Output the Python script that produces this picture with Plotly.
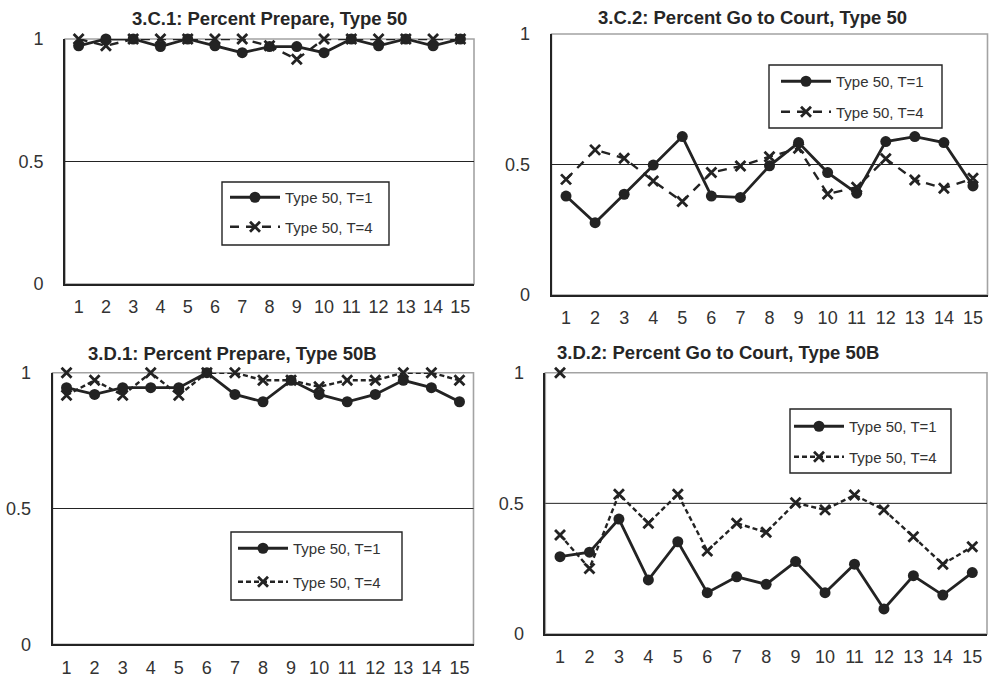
import plotly.graph_objects as go

# Simulation periods shown on every x axis
periods = list(range(1, 16))
tick_text = [str(p) for p in periods]
y_ticks = [0, 0.5, 1]
y_tick_text = ["0", "0.5", "1"]

# 3.C.1: share of players who prepare, Type 50
c1_t1 = [0.972, 1.0, 1.0, 0.969, 1.0, 0.972, 0.944, 0.969, 0.969, 0.944, 1.0, 0.972, 1.0, 0.972, 1.0]
c1_t4 = [1.0, 0.972, 1.0, 1.0, 1.0, 1.0, 1.0, 0.972, 0.917, 1.0, 1.0, 1.0, 1.0, 1.0, 1.0]

# 3.C.2: share of players who go to court, Type 50
c2_t1 = [0.379, 0.277, 0.386, 0.498, 0.607, 0.379, 0.374, 0.495, 0.584, 0.469, 0.390, 0.588, 0.607, 0.584, 0.418]
c2_t4 = [0.443, 0.556, 0.524, 0.437, 0.358, 0.469, 0.494, 0.530, 0.562, 0.387, 0.413, 0.522, 0.441, 0.409, 0.447]

# 3.D.1: share of players who prepare, Type 50B
d1_t1 = [0.945, 0.920, 0.945, 0.945, 0.945, 1.0, 0.920, 0.893, 0.972, 0.920, 0.893, 0.920, 0.972, 0.945, 0.893]
d1_t4 = [0.917, 0.972, 0.917, 1.0, 0.917, 1.0, 1.0, 0.972, 0.972, 0.948, 0.972, 0.972, 1.0, 1.0, 0.972]
d1_t4_extra_x = [1]
d1_t4_extra = [1.0]

# 3.D.2: share of players who go to court, Type 50B
d2_t1 = [0.296, 0.313, 0.440, 0.207, 0.353, 0.158, 0.219, 0.190, 0.277, 0.158, 0.267, 0.096, 0.223, 0.149, 0.235]
d2_t4 = [0.379, 0.251, 0.535, 0.424, 0.535, 0.318, 0.424, 0.389, 0.502, 0.475, 0.532, 0.475, 0.372, 0.267, 0.334]
d2_t4_extra_x = [1]
d2_t4_extra = [1.0]

titles = [
    "3.C.1: Percent Prepare, Type 50",
    "3.C.2: Percent Go to Court, Type 50",
    "3.D.1: Percent Prepare, Type 50B",
    "3.D.2: Percent Go to Court, Type 50B",
]
series_names = ["Type 50, T=1", "Type 50, T=4"]

W, H = 990, 681
INK = "#232323"
FRAME = "#a3a3a3"
TEXT = "#333333"
FONT = "Liberation Sans, Arial, sans-serif"


def px_x(v):
    return v / W


def px_y(v):
    return 1 - v / H


# panel boxes in pixels: left, right, top, bottom
panels = [
    (65, 474, 39, 284),
    (551.5, 987.5, 34, 295),
    (52.5, 473.5, 372.7, 644.3),
    (545.3, 987, 372.7, 634),
]
# legend frames in pixels: left, top, right, bottom
legend_boxes = [
    (222, 182, 389, 245),
    (769, 65, 942, 128),
    (231, 532, 402, 600),
    (790, 409, 951, 473),
]
# where the legend entries start (text left, first row centre) and row gap
legend_text_x = [286, 837, 294, 850]
legend_row1_y = [196, 80, 547, 425]
legend_gaps = [7, 8, 11, 8]

long_dash = "9px,7px"
short_dash = "5px,3px"
dashes = [long_dash, long_dash, short_dash, short_dash]
# title centres in pixels
title_pos = [(269, 19), (752, 18), (232, 353), (718, 352)]

data = [(c1_t1, c1_t4), (c2_t1, c2_t4), (d1_t1, d1_t4), (d2_t1, d2_t4)]
extras = [None, None, (d1_t4_extra_x, d1_t4_extra), (d2_t4_extra_x, d2_t4_extra)]

x_marker = dict(symbol="x-thin", size=10, color=INK, line=dict(color=INK, width=2.8))

fig = go.Figure()
layout = dict(
    width=W, height=H,
    margin=dict(l=0, r=0, t=0, b=0, autoexpand=False),
    paper_bgcolor="white", plot_bgcolor="white",
    font=dict(family=FONT, color=TEXT),
    shapes=[], annotations=[],
)

for i, ((t1, t4), (l, r, t, b)) in enumerate(zip(data, panels)):
    n = "" if i == 0 else str(i + 1)
    xa, ya = "x" + n, "y" + n
    leg = "legend" + n
    fig.add_trace(go.Scatter(
        x=periods, y=t1, name=series_names[0], xaxis=xa, yaxis=ya,
        mode="lines+markers", legend=leg, legendgroup="a",
        line=dict(color=INK, width=2.8),
        marker=dict(symbol="circle", size=11, color=INK),
        cliponaxis=False,
    ))
    fig.add_trace(go.Scatter(
        x=periods, y=t4, name=series_names[1], xaxis=xa, yaxis=ya,
        mode="lines+markers", legend=leg, legendgroup="b",
        line=dict(color=INK, width=2.4, dash=dashes[i]),
        marker=x_marker,
        cliponaxis=False,
    ))
    if extras[i] is not None:
        ex, ey = extras[i]
        fig.add_trace(go.Scatter(
            x=ex, y=ey, xaxis=xa, yaxis=ya, mode="markers", showlegend=False,
            marker=x_marker, cliponaxis=False,
        ))

    layout["xaxis" + n] = dict(
        domain=[px_x(l), px_x(r)], anchor=ya, range=[0.5, 15.5],
        tickvals=periods, ticktext=tick_text, showgrid=False, zeroline=False,
        showline=True, linecolor=INK, linewidth=1.6, automargin=False,
        ticks="outside", ticklen=6, tickcolor="rgba(0,0,0,0)",
        tickfont=dict(size=18, color=TEXT, family=FONT),
    )
    layout["yaxis" + n] = dict(
        domain=[px_y(b), px_y(t)], anchor=xa, range=[0, 1],
        tickvals=y_ticks, ticktext=y_tick_text, showgrid=False, zeroline=False,
        showline=True, linecolor=INK, linewidth=1.6, automargin=False,
        ticks="outside", ticklen=16, tickcolor="rgba(0,0,0,0)",
        tickfont=dict(size=18, color=TEXT, family=FONT),
    )
    # light frame around the plotting area
    layout["shapes"].append(dict(
        type="rect", xref=xa + " domain", yref=ya + " domain",
        x0=0, x1=1, y0=0, y1=1, layer="below",
        line=dict(color=FRAME, width=1.6),
    ))
    # reference line at one half
    layout["shapes"].append(dict(
        type="line", xref=xa + " domain", yref=ya,
        x0=0, x1=1, y0=0.5, y1=0.5, layer="below",
        line=dict(color=INK, width=1),
    ))
    tx, ty = title_pos[i]
    layout["annotations"].append(dict(
        text="<b>" + titles[i] + "</b>", xref="paper", yref="paper",
        x=px_x(tx), y=px_y(ty), xanchor="center", yanchor="middle",
        showarrow=False, font=dict(size=18.5, color="#262626", family=FONT),
    ))
    # legend frame
    bl, bt, br, bb = legend_boxes[i]
    layout["shapes"].append(dict(
        type="rect", xref="paper", yref="paper",
        x0=px_x(bl), x1=px_x(br), y0=px_y(bb), y1=px_y(bt),
        fillcolor="white", layer="above",
        line=dict(color=INK, width=1.4),
    ))
    layout[leg] = dict(
        x=px_x(legend_text_x[i] - 61), y=px_y(legend_row1_y[i] - 15),
        xanchor="left", yanchor="top",
        bgcolor="rgba(0,0,0,0)", borderwidth=0,
        font=dict(size=15, color=TEXT, family=FONT),
        itemwidth=50, traceorder="grouped", tracegroupgap=legend_gaps[i],
        itemclick=False, itemdoubleclick=False,
    )

fig.update_layout(**layout)
fig.write_html("out.html")
